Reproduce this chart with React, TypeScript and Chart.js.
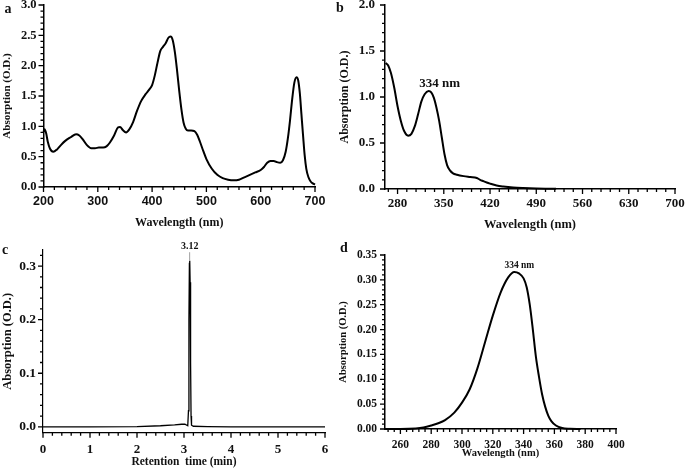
import React, { useEffect, useRef } from 'react';
import { Chart, registerables } from 'chart.js';

Chart.register(...registerables);

const SERIF = "'Liberation Serif', 'Times New Roman', serif";
const SANS = "'Liberation Sans', Arial, sans-serif";

// ---------- Panel a: absorption spectrum ----------
const A_WL = [200, 202, 205, 208, 212, 218, 225, 232, 240, 250, 260, 266, 272, 280, 288, 295, 302, 310, 316, 322, 330, 337, 341, 346, 352, 358, 365, 372, 380, 388, 395, 400, 405, 410, 415, 420, 425, 430, 434, 438, 442, 446, 450, 454, 458, 462, 466, 472, 478, 483, 488, 494, 500, 510, 520, 530, 540, 550, 560, 570, 580, 590, 600, 606, 612, 618, 624, 630, 636, 641, 646, 650, 654, 658, 662, 666, 669, 672, 675, 678, 681, 684, 688, 692, 696, 700];
const A_ABS = [0.91, 0.95, 0.88, 0.74, 0.63, 0.58, 0.62, 0.69, 0.76, 0.82, 0.87, 0.85, 0.79, 0.69, 0.64, 0.64, 0.65, 0.65, 0.67, 0.73, 0.85, 0.98, 0.99, 0.94, 0.90, 0.95, 1.07, 1.25, 1.42, 1.53, 1.61, 1.68, 1.84, 2.05, 2.24, 2.31, 2.37, 2.46, 2.48, 2.42, 2.22, 1.92, 1.58, 1.28, 1.06, 0.96, 0.93, 0.93, 0.92, 0.86, 0.75, 0.60, 0.46, 0.30, 0.20, 0.145, 0.12, 0.11, 0.12, 0.16, 0.20, 0.24, 0.28, 0.33, 0.40, 0.43, 0.43, 0.41, 0.40, 0.44, 0.58, 0.80, 1.10, 1.45, 1.72, 1.81, 1.76, 1.55, 1.20, 0.85, 0.52, 0.30, 0.16, 0.09, 0.06, 0.04];
const A_XTICKS = [200, 300, 400, 500, 600, 700];
const A_YTICKS = [0, 0.5, 1.0, 1.5, 2.0, 2.5, 3.0];

// ---------- Panel b: absorption spectrum ----------
const B_WL = [262, 266, 270, 275, 280, 285, 290, 296, 301, 306, 311, 316, 321, 327, 331, 335, 339, 343, 347, 351, 355, 359, 364, 370, 380, 390, 400, 405, 410, 415, 420, 430, 440, 455, 470, 490, 520];
const B_ABS = [1.37, 1.34, 1.26, 1.10, 0.90, 0.74, 0.63, 0.58, 0.60, 0.68, 0.81, 0.95, 1.03, 1.065, 1.05, 0.99, 0.88, 0.74, 0.56, 0.38, 0.26, 0.205, 0.17, 0.155, 0.14, 0.13, 0.12, 0.10, 0.085, 0.07, 0.058, 0.038, 0.027, 0.016, 0.01, 0.005, 0.002];
const B_XTICKS = [280, 350, 420, 490, 560, 630, 700];
const B_YTICKS = [0, 0.5, 1.0, 1.5, 2.0];
const B_PEAK_TEXT = '334 nm';
const B_PEAK_WL = 327;
const B_PEAK_ABS = 1.065;

// ---------- Panel c: chromatogram ----------
const C_TIME = [0, 1, 2, 2.5, 2.8, 2.95, 3.02, 3.06, 3.08, 3.095, 3.105, 3.115, 3.122, 3.13, 3.14, 3.15, 3.16, 3.2, 3.5, 4, 5, 6];
const C_ABS = [0, 0, 0.0005, 0.002, 0.0035, 0.0048, 0.005, 0.003, 0.002, 0.03, 0.2, 0.305, 0.31, 0.27, 0.12, 0.02, 0.003, 0.001, 0.0005, 0, 0, 0];
const C_XTICKS = [0, 1, 2, 3, 4, 5, 6];
const C_YTICKS = [0, 0.1, 0.2, 0.3];
const C_PEAK_TEXT = '3.12';
const C_PEAK_T = 3.12;
const C_PEAK_ABS = 0.31;

// ---------- Panel d: absorption spectrum ----------
const D_WL = [250, 260, 270, 275, 280, 285, 289, 295, 300, 305, 310, 315, 320, 325, 330, 334, 337, 340, 342, 344, 346, 348, 350, 352, 354, 356, 358, 361, 365, 370, 377];
const D_ABS = [0, 0, 0.001, 0.003, 0.007, 0.012, 0.018, 0.033, 0.053, 0.08, 0.122, 0.175, 0.228, 0.274, 0.305, 0.316, 0.313, 0.303, 0.285, 0.25, 0.20, 0.145, 0.105, 0.07, 0.045, 0.027, 0.016, 0.007, 0.002, 0.0005, 0];
const D_XTICKS = [260, 280, 300, 320, 340, 360, 380, 400];
const D_YTICKS = [0, 0.05, 0.10, 0.15, 0.20, 0.25, 0.30, 0.35];
const D_PEAK_TEXT = '334 nm';
const D_PEAK_WL = 334;
const D_PEAK_ABS = 0.316;

type Label = { text: string; x: number; y: number; dx: number; dy: number; size: number; leader?: boolean };

type Spec = {
  left: number; top: number; width: number; height: number;
  pad: { left: number; top: number; right: number; bottom: number };
  yW: number; xH: number;
  xs: number[]; ys: number[]; lineW: number; smooth: boolean;
  xMin: number; xMax: number; xTicks: number[]; xMinor: number; xDec: number; xFont: any; xTickPad: number;
  yMin: number; yMax: number; yTicks: number[]; yMinor: number; yDec: number; yFont: any; yTickPad: number;
  xTitle: string; xTitleSize: number; xTitlePad: number;
  yTitle: string; yTitleSize: number; yTitlePad: number;
  axisW: number;
  label?: Label;
};

const MAJOR_LEN = 5;
const MINOR_LEN = 3;
const DEFAULT_TICK_LEN = 8; // Chart.js grid.tickLength default, still used for label offset

// Major + minor tick marks on both axes, placed through the chart's own scales.
function makeTicksPlugin(s: Spec) {
  return {
    id: 'axisTicks',
    afterDraw(chart: any) {
      const { ctx, chartArea } = chart;
      const xs = chart.scales.x;
      const ys = chart.scales.y;
      ctx.save();
      ctx.strokeStyle = '#000';
      ctx.lineWidth = 1.3;
      ctx.beginPath();
      const xb = s.xTicks[0];
      const xst = s.xMinor;
      const k0 = Math.ceil((s.xMin - xb) / xst - 1e-6);
      for (let k = k0; xb + k * xst <= s.xMax + 1e-6; k++) {
        const v = xb + k * xst;
        const major = s.xTicks.some((m: number) => Math.abs(m - v) < xst * 0.01);
        const px = xs.getPixelForValue(v);
        ctx.moveTo(px, chartArea.bottom);
        ctx.lineTo(px, chartArea.bottom + (major ? MAJOR_LEN : MINOR_LEN));
      }
      const yb = s.yTicks[0];
      const yst = s.yMinor;
      const j0 = Math.ceil((s.yMin - yb) / yst - 1e-6);
      for (let k = j0; yb + k * yst <= s.yMax + 1e-6; k++) {
        const v = yb + k * yst;
        const major = s.yTicks.some((m: number) => Math.abs(m - v) < yst * 0.01);
        const py = ys.getPixelForValue(v);
        ctx.moveTo(chartArea.left, py);
        ctx.lineTo(chartArea.left - (major ? MAJOR_LEN : MINOR_LEN), py);
      }
      ctx.stroke();
      ctx.restore();
    },
  };
}

function makeLabelPlugin(s: Spec) {
  return {
    id: 'peakLabel',
    afterDraw(chart: any) {
      const L = s.label;
      if (!L) return;
      const { ctx } = chart;
      const px = chart.scales.x.getPixelForValue(L.x);
      const py = chart.scales.y.getPixelForValue(L.y);
      ctx.save();
      ctx.fillStyle = '#111';
      ctx.font = `bold ${L.size}px ${SERIF}`;
      ctx.textAlign = 'center';
      ctx.textBaseline = 'middle';
      const tx = px + L.dx;
      const ty = py + L.dy;
      ctx.fillText(L.text, tx, ty);
      if (L.leader) {
        ctx.strokeStyle = '#888';
        ctx.lineWidth = 0.8;
        ctx.beginPath();
        ctx.moveTo(px, py);
        ctx.lineTo(px, ty + L.size * 0.55);
        ctx.stroke();
      }
      ctx.restore();
    },
  };
}

function Panel({ s }: { s: Spec }) {
  const ref = useRef<HTMLCanvasElement>(null);
  useEffect(() => {
    const data = s.xs.map((x: number, i: number) => ({ x, y: s.ys[i] }));
    const chart = new Chart(ref.current as HTMLCanvasElement, {
      type: 'scatter',
      data: {
        datasets: [
          {
            data,
            showLine: true,
            borderColor: '#000',
            borderWidth: s.lineW,
            pointRadius: 0,
            fill: false,
            clip: false,
            cubicInterpolationMode: s.smooth ? 'monotone' : 'default',
            tension: 0,
          } as any,
        ],
      },
      options: {
        animation: false,
        responsive: false,
        maintainAspectRatio: false,
        devicePixelRatio: 1,
        events: [],
        layout: { padding: s.pad },
        plugins: { legend: { display: false }, tooltip: { enabled: false } },
        scales: {
          x: {
            type: 'linear',
            min: s.xMin,
            max: s.xMax,
            afterBuildTicks: (sc: any) => {
              sc.ticks = s.xTicks.map((v: number) => ({ value: v }));
            },
            afterFit: (sc: any) => {
              sc.height = s.xH;
              sc.paddingLeft = 0; sc.paddingRight = 0; sc.paddingTop = 0; sc.paddingBottom = 0;
            },
            grid: { display: false },
            border: { display: true, color: '#000', width: s.axisW },
            ticks: {
              padding: s.xTickPad + MAJOR_LEN - DEFAULT_TICK_LEN,
              color: '#111',
              font: s.xFont,
              maxRotation: 0,
              autoSkip: false,
              callback: (v: any) => Number(v).toFixed(s.xDec),
            },
            title: {
              display: true,
              text: s.xTitle,
              color: '#111',
              font: { family: SERIF, weight: 'bold', size: s.xTitleSize },
              padding: { top: 0, bottom: s.xTitlePad },
            },
          },
          y: {
            type: 'linear',
            min: s.yMin,
            max: s.yMax,
            afterBuildTicks: (sc: any) => {
              sc.ticks = s.yTicks.map((v: number) => ({ value: v }));
            },
            afterFit: (sc: any) => {
              sc.width = s.yW;
              sc.paddingLeft = 0; sc.paddingRight = 0; sc.paddingTop = 0; sc.paddingBottom = 0;
            },
            grid: { display: false },
            border: { display: true, color: '#000', width: s.axisW },
            ticks: {
              padding: s.yTickPad + MAJOR_LEN - DEFAULT_TICK_LEN,
              color: '#111',
              font: s.yFont,
              autoSkip: false,
              callback: (v: any) => Number(v).toFixed(s.yDec),
            },
            title: {
              display: true,
              text: s.yTitle,
              color: '#111',
              font: { family: SERIF, weight: 'bold', size: s.yTitleSize },
              padding: { top: s.yTitlePad, bottom: 0 },
            },
          },
        },
      } as any,
      plugins: [makeTicksPlugin(s), makeLabelPlugin(s)],
    });
    return () => chart.destroy();
  }, []);
  return (
    <canvas
      ref={ref}
      width={s.width}
      height={s.height}
      style={{ position: 'absolute', left: s.left, top: s.top, width: s.width, height: s.height }}
    />
  );
}

const serifBold = (size: number) => ({ family: SERIF, weight: 'bold', size });

const PANELS: Spec[] = [
  {
    left: 0, top: 0, width: 335, height: 235,
    pad: { left: 0, top: 5, right: 20, bottom: 0 },
    yW: 43.5, xH: 48,
    xs: A_WL, ys: A_ABS, lineW: 2, smooth: true,
    xMin: 200, xMax: 700, xTicks: A_XTICKS, xMinor: 20, xDec: 0, xFont: { family: SANS, weight: 'bold', size: 12.5 }, xTickPad: 2,
    yMin: 0, yMax: 3, yTicks: A_YTICKS, yMinor: 0.1, yDec: 1, yFont: serifBold(12.5), yTickPad: 2,
    xTitle: 'Wavelength (nm)', xTitleSize: 12, xTitlePad: 5,
    yTitle: 'Absorption (O.D.)', yTitleSize: 11, yTitlePad: 1,
    axisW: 1.5,
  },
  {
    left: 335, top: 0, width: 350, height: 235,
    pad: { left: 0, top: 5, right: 10, bottom: 0 },
    yW: 50, xH: 46,
    xs: B_WL, ys: B_ABS, lineW: 2, smooth: true,
    xMin: 261, xMax: 700, xTicks: B_XTICKS, xMinor: 14, xDec: 0, xFont: serifBold(13), xTickPad: 2,
    yMin: 0, yMax: 2, yTicks: B_YTICKS, yMinor: 0.1, yDec: 1, yFont: serifBold(13), yTickPad: 5,
    xTitle: 'Wavelength (nm)', xTitleSize: 12.5, xTitlePad: 3,
    yTitle: 'Absorption (O.D.)', yTitleSize: 12, yTitlePad: 3,
    axisW: 1.5,
    label: { text: B_PEAK_TEXT, x: B_PEAK_WL, y: B_PEAK_ABS, dx: 11, dy: -7, size: 13 },
  },
  {
    left: 0, top: 235, width: 335, height: 235,
    pad: { left: 0, top: 15, right: 10, bottom: 0 },
    yW: 43, xH: 37.3,
    xs: C_TIME, ys: C_ABS, lineW: 1.3, smooth: false,
    xMin: 0, xMax: 6, xTicks: C_XTICKS, xMinor: 0.2, xDec: 0, xFont: serifBold(13), xTickPad: 4,
    yMin: -0.011, yMax: 0.33, yTicks: C_YTICKS, yMinor: 0.02, yDec: 1, yFont: serifBold(13.5), yTickPad: 2,
    xTitle: 'Retention  time (min)', xTitleSize: 11.5, xTitlePad: 1,
    yTitle: 'Absorption (O.D.)', yTitleSize: 12.5, yTitlePad: 0,
    axisW: 1.2,
    label: { text: C_PEAK_TEXT, x: C_PEAK_T, y: C_PEAK_ABS, dx: 0, dy: -14, size: 10, leader: true },
  },
  {
    left: 335, top: 235, width: 350, height: 235,
    pad: { left: 0, top: 20, right: 69, bottom: 0 },
    yW: 50, xH: 41,
    xs: D_WL, ys: D_ABS, lineW: 2, smooth: true,
    xMin: 250, xMax: 400, xTicks: D_XTICKS, xMinor: 4, xDec: 0, xFont: serifBold(11.5), xTickPad: 4,
    yMin: 0, yMax: 0.35, yTicks: D_YTICKS, yMinor: 0.01, yDec: 2, yFont: serifBold(11.5), yTickPad: 3,
    xTitle: 'Wavelength (nm)', xTitleSize: 10.5, xTitlePad: 10,
    yTitle: 'Absorption (O.D.)', yTitleSize: 10.5, yTitlePad: 1.5,
    axisW: 1.5,
    label: { text: D_PEAK_TEXT, x: D_PEAK_WL, y: D_PEAK_ABS, dx: 5, dy: -6, size: 9.5 },
  },
];

const LETTERS = [
  { t: 'a', x: 8, y: 9 },
  { t: 'b', x: 340, y: 8 },
  { t: 'c', x: 5, y: 250 },
  { t: 'd', x: 344, y: 248 },
];

export default function App() {
  return (
    <div style={{ position: 'absolute', left: 0, top: 0, width: 685, height: 470, background: '#fff', overflow: 'hidden' }}>
      {PANELS.map((p, i) => (
        <Panel key={i} s={p} />
      ))}
      {LETTERS.map((l) => (
        <div
          key={l.t}
          style={{
            position: 'absolute',
            left: l.x,
            top: l.y,
            transform: 'translate(-50%, -50%)',
            fontFamily: SERIF,
            fontWeight: 'bold',
            fontSize: 14,
            lineHeight: 1,
            color: '#111',
          }}
        >
          {l.t}
        </div>
      ))}
    </div>
  );
}
